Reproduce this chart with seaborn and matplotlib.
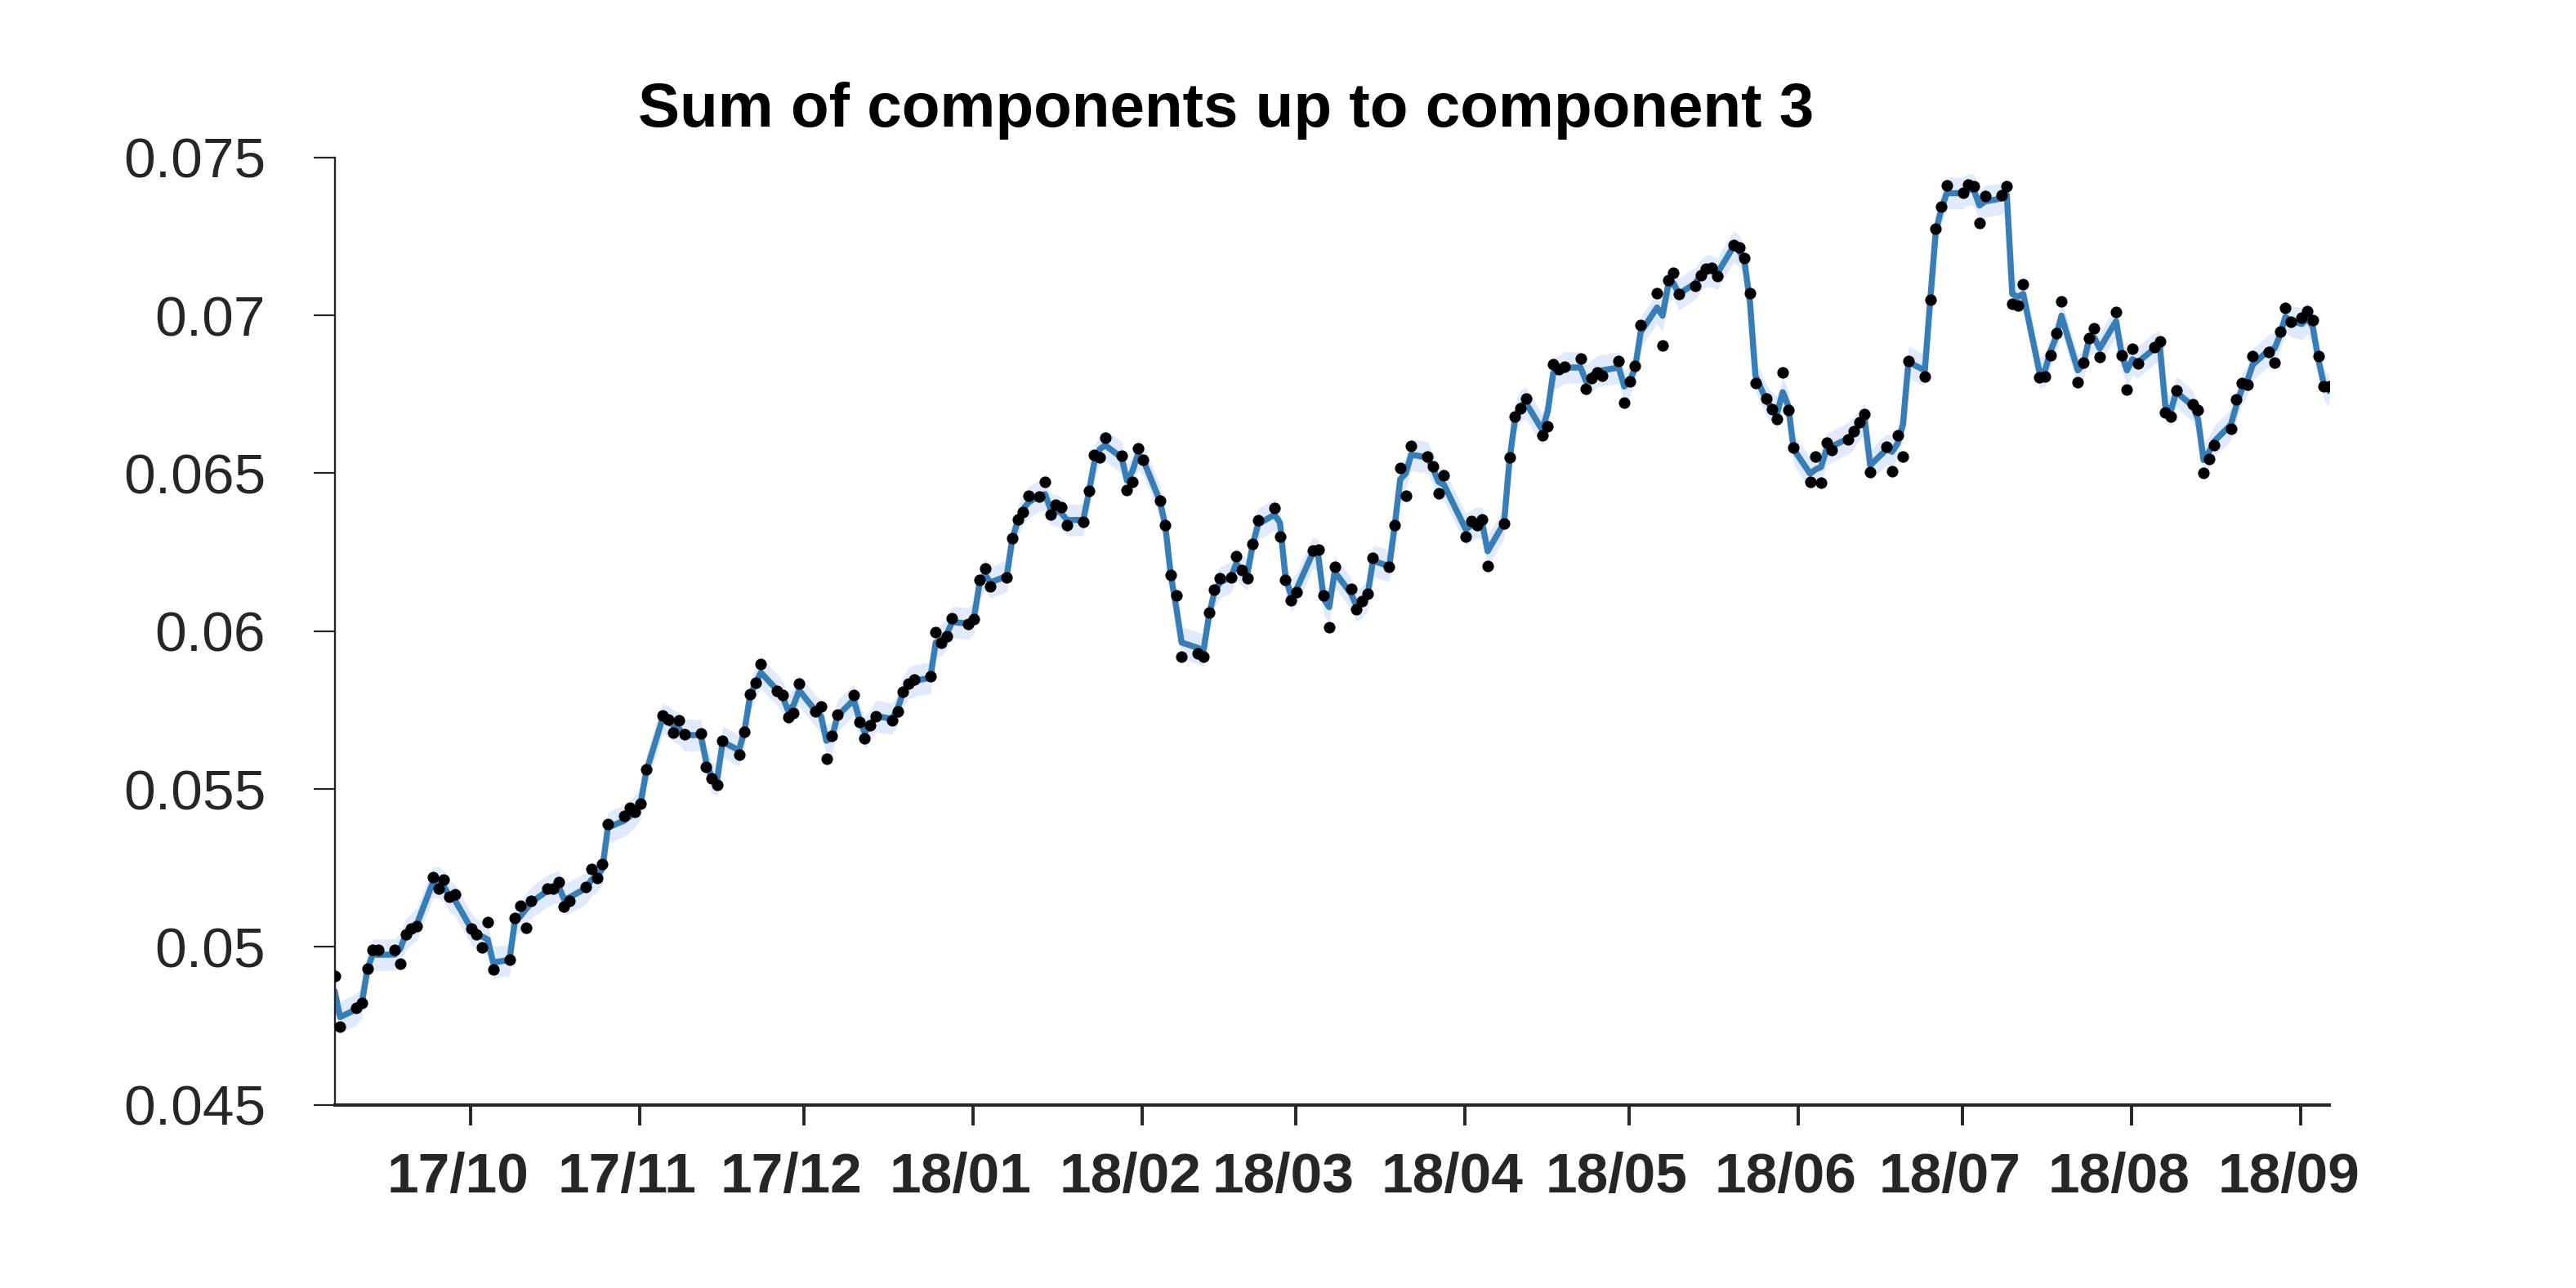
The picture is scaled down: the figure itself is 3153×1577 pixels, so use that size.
import numpy as np
import pandas as pd
import matplotlib
matplotlib.use("Agg")
import matplotlib.pyplot as plt
import matplotlib.transforms as mtransforms
import seaborn as sns

# ---------------- data ----------------
start_time = "2017-09-06 04:00"   # time stamp of the first observation
day_offsets = [0, 1, 4, 5, 6, 7, 8, 11, 12, 13, 14, 15, 18, 19, 20, 21, 22, 25, 26, 27, 28, 29,
               32, 33, 34, 35, 36, 39, 40, 41, 42, 43, 46, 47, 48, 49, 50, 53, 54, 55, 56, 57,
               60, 61, 62, 63, 64, 67, 68, 69, 70, 71, 74, 75, 76, 77, 78, 81, 82, 83, 84, 85,
               88, 89, 90, 91, 92, 95, 96, 97, 98, 99, 102, 103, 104, 105, 106, 109, 110, 111, 112, 113,
               116, 117, 118, 119, 120, 123, 124, 125, 126, 127, 129, 130, 131, 132, 133, 134,
               137, 138, 139, 140, 141, 144, 145, 146, 147, 148, 151, 152, 153, 154, 155,
               158, 159, 160, 161, 162, 164, 165, 166, 167, 168, 169, 172, 173, 174, 175, 176,
               179, 180, 181, 182, 183, 186, 187, 188, 189, 190, 193, 194, 195, 196, 197,
               200, 201, 202, 203, 207, 208, 209, 210, 211, 214, 215, 216, 217, 218,
               221, 222, 223, 224, 225, 228, 229, 230, 231, 232, 235, 236, 237, 238, 239,
               242, 243, 244, 245, 246, 249, 250, 251, 252, 253, 256, 257, 258, 259, 260,
               262, 263, 264, 265, 266, 267, 270, 271, 272, 273, 274, 277, 278, 279, 280, 281,
               284, 285, 286, 287, 288, 291, 292, 293, 294, 295, 298, 299, 300, 301, 302,
               305, 306, 307, 308, 309, 312, 313, 314, 315, 316, 319, 320, 321, 322, 323,
               326, 327, 328, 329, 330, 333, 334, 335, 336, 337, 340, 341, 342, 343, 344,
               347, 348, 349, 350, 351, 354, 355, 356, 357, 358, 360, 361, 362, 363, 364, 365]

observed = [0.04909, 0.04748, 0.04807, 0.04823, 0.04931, 0.04990, 0.04990, 0.04991, 0.04948, 0.05041,
            0.05057, 0.05066, 0.05221, 0.05186, 0.05212, 0.05158, 0.05166, 0.05058, 0.05040, 0.04998,
            0.05079, 0.04929, 0.04959, 0.05091, 0.05130, 0.05061, 0.05145, 0.05186, 0.05186, 0.05205,
            0.05128, 0.05146, 0.05190, 0.05248, 0.05218, 0.05263, 0.05389, 0.05415, 0.05441, 0.05428,
            0.05453, 0.05563, 0.05734, 0.05721, 0.05679, 0.05717, 0.05673, 0.05675, 0.05569, 0.05533,
            0.05513, 0.05653, 0.05609, 0.05682, 0.05800, 0.05837, 0.05895, 0.05811, 0.05798, 0.05729,
            0.05741, 0.05835, 0.05747, 0.05761, 0.05596, 0.05668, 0.05735, 0.05798, 0.05712, 0.05660,
            0.05703, 0.05730, 0.05717, 0.05746, 0.05809, 0.05835, 0.05846, 0.05858, 0.05996, 0.05964,
            0.05984, 0.06042, 0.06024, 0.06039, 0.06162, 0.06199, 0.06143, 0.06171, 0.06294, 0.06355,
            0.06378, 0.06430, 0.06427, 0.06473, 0.06369, 0.06400, 0.06393, 0.06336, 0.06346, 0.06445,
            0.06559, 0.06550, 0.06613, 0.06555, 0.06447, 0.06473, 0.06579, 0.06543, 0.06413, 0.06337,
            0.06177, 0.06113, 0.05919, 0.05930, 0.05919, 0.06059, 0.06132, 0.06168, 0.06171, 0.06237,
            0.06193, 0.06168, 0.06276, 0.06352, 0.06389, 0.06299, 0.06162, 0.06098, 0.06124, 0.06256,
            0.06257, 0.06113, 0.06012, 0.06203, 0.06134, 0.06069, 0.06095, 0.06118, 0.06231, 0.06204,
            0.06337, 0.06516, 0.06428, 0.06587, 0.06553, 0.06523, 0.06437, 0.06493, 0.06300, 0.06349,
            0.06335, 0.06354, 0.06206, 0.06341, 0.06550, 0.06680, 0.06706, 0.06737, 0.06619, 0.06649,
            0.06844, 0.06831, 0.06837, 0.06863, 0.06768, 0.06801, 0.06820, 0.06809, 0.06855, 0.06723,
            0.06790, 0.06840, 0.06970, 0.07070, 0.06904, 0.07111, 0.07134, 0.07068, 0.07094, 0.07128,
            0.07147, 0.07150, 0.07125, 0.07223, 0.07214, 0.07182, 0.07070, 0.06787, 0.06736, 0.06704,
            0.06671, 0.06819, 0.06701, 0.06581, 0.06473, 0.06552, 0.06471, 0.06598, 0.06574, 0.06608,
            0.06634, 0.06662, 0.06687, 0.06505, 0.06583, 0.06506, 0.06621, 0.06552, 0.06855, 0.06806,
            0.07050, 0.07275, 0.07344, 0.07413, 0.07389, 0.07414, 0.07410, 0.07292, 0.07378, 0.07380,
            0.07410, 0.07037, 0.07031, 0.07100, 0.06803, 0.06806, 0.06874, 0.06944, 0.07044, 0.06788,
            0.06850, 0.06927, 0.06960, 0.06868, 0.07012, 0.06874, 0.06764, 0.06895, 0.06848, 0.06900,
            0.06917, 0.06693, 0.06680, 0.06762, 0.06719, 0.06701, 0.06500, 0.06544, 0.06589, 0.06641,
            0.06733, 0.06785, 0.06781, 0.06871, 0.06885, 0.06850, 0.06949, 0.07023, 0.06979, 0.06992,
            0.07013, 0.06986, 0.06871, 0.06776, 0.06775]

fit_mean = [0.04860, 0.04778, 0.04803, 0.04823, 0.04931, 0.04977, 0.04975, 0.04976, 0.04994, 0.05039,
            0.05057, 0.05070, 0.05205, 0.05205, 0.05192, 0.05160, 0.05149, 0.05058, 0.05038, 0.05033,
            0.05024, 0.04951, 0.04959, 0.05084, 0.05097, 0.05119, 0.05141, 0.05179, 0.05186, 0.05192,
            0.05150, 0.05157, 0.05186, 0.05213, 0.05222, 0.05248, 0.05378, 0.05400, 0.05413, 0.05430,
            0.05456, 0.05554, 0.05723, 0.05714, 0.05701, 0.05692, 0.05671, 0.05671, 0.05585, 0.05537,
            0.05529, 0.05649, 0.05623, 0.05684, 0.05792, 0.05835, 0.05869, 0.05813, 0.05792, 0.05748,
            0.05766, 0.05813, 0.05748, 0.05731, 0.05653, 0.05662, 0.05731, 0.05783, 0.05723, 0.05679,
            0.05701, 0.05731, 0.05723, 0.05753, 0.05805, 0.05835, 0.05843, 0.05852, 0.05964, 0.05973,
            0.05990, 0.06029, 0.06024, 0.06042, 0.06150, 0.06180, 0.06154, 0.06175, 0.06292, 0.06348,
            0.06387, 0.06408, 0.06430, 0.06434, 0.06387, 0.06382, 0.06374, 0.06352, 0.06352, 0.06438,
            0.06533, 0.06576, 0.06589, 0.06550, 0.06477, 0.06507, 0.06559, 0.06542, 0.06413, 0.06335,
            0.06180, 0.06076, 0.05964, 0.05947, 0.05938, 0.06050, 0.06124, 0.06154, 0.06171, 0.06214,
            0.06193, 0.06180, 0.06274, 0.06339, 0.06369, 0.06343, 0.06171, 0.06115, 0.06132, 0.06248,
            0.06240, 0.06102, 0.06076, 0.06188, 0.06119, 0.06080, 0.06093, 0.06111, 0.06223, 0.06206,
            0.06335, 0.06481, 0.06499, 0.06559, 0.06550, 0.06516, 0.06473, 0.06464, 0.06322, 0.06335,
            0.06343, 0.06343, 0.06253, 0.06343, 0.06542, 0.06671, 0.06714, 0.06723, 0.06637, 0.06697,
            0.06818, 0.06822, 0.06835, 0.06835, 0.06792, 0.06809, 0.06822, 0.06826, 0.06835, 0.06775,
            0.06792, 0.06835, 0.06947, 0.07025, 0.06999, 0.07094, 0.07102, 0.07068, 0.07102, 0.07128,
            0.07141, 0.07141, 0.07132, 0.07219, 0.07206, 0.07171, 0.07042, 0.06809, 0.06731, 0.06706,
            0.06693, 0.06757, 0.06714, 0.06576, 0.06499, 0.06512, 0.06520, 0.06576, 0.06585, 0.06611,
            0.06628, 0.06654, 0.06671, 0.06525, 0.06576, 0.06568, 0.06594, 0.06654, 0.06852, 0.06826,
            0.07050, 0.07266, 0.07335, 0.07387, 0.07387, 0.07400, 0.07396, 0.07348, 0.07361, 0.07370,
            0.07383, 0.07068, 0.07059, 0.07068, 0.06818, 0.06826, 0.06887, 0.06930, 0.06999, 0.06826,
            0.06844, 0.06921, 0.06930, 0.06895, 0.06982, 0.06878, 0.06826, 0.06861, 0.06852, 0.06895,
            0.06904, 0.06714, 0.06697, 0.06757, 0.06714, 0.06671, 0.06542, 0.06568, 0.06602, 0.06654,
            0.06714, 0.06766, 0.06792, 0.06844, 0.06891, 0.06895, 0.06938, 0.06995, 0.06982, 0.06973,
            0.06990, 0.06964, 0.06861, 0.06783, 0.06760]

band_halfwidth = 0.0005

tick_months = ["2017-10-01", "2017-11-01", "2017-12-01", "2018-01-01", "2018-02-01", "2018-03-01",
               "2018-04-01", "2018-05-01", "2018-06-01", "2018-07-01", "2018-08-01", "2018-09-01"]
tick_labels = ["17/10", "17/11", "17/12", "18/01", "18/02", "18/03",
               "18/04", "18/05", "18/06", "18/07", "18/08", "18/09"]
y_ticks = [0.045, 0.05, 0.055, 0.06, 0.065, 0.07, 0.075]
y_tick_labels = ["0.045", "0.05", "0.055", "0.06", "0.065", "0.07", "0.075"]
title_text = "Sum of components up to component 3"

# ---------------- build frame ----------------
dates = pd.Timestamp(start_time) + pd.to_timedelta(day_offsets, unit="D")
df = pd.DataFrame({"date": dates, "observed": observed, "fit": fit_mean})
df["lo"] = df["fit"] - band_halfwidth
df["hi"] = df["fit"] + band_halfwidth

# ---------------- style ----------------
sns.set_style("white")
plt.rcParams["font.family"] = ["Liberation Sans", "DejaVu Sans"]

DPI = 200
fig = plt.figure(figsize=(3153 / DPI, 1577 / DPI), dpi=DPI)
ax = fig.add_axes([0.1299, 0.1422, 0.7743, 0.7355])

ax.fill_between(df["date"], df["lo"], df["hi"], color="#e1eafc", linewidth=0, zorder=1)
sns.lineplot(data=df, x="date", y="fit", color="#377eb8", linewidth=2.7, ax=ax, zorder=2)
sns.scatterplot(data=df, x="date", y="observed", color="black", s=26, linewidth=0,
                ax=ax, zorder=3)

ax.set_xlim(df["date"].iloc[0], df["date"].iloc[-1])
ax.set_ylim(y_ticks[0], y_ticks[-1])
ax.set_xlabel("")
ax.set_ylabel("")

ax.set_xticks(pd.to_datetime(tick_months))
ax.set_xticklabels(tick_labels, fontsize=25, fontweight="bold", color="#262626")
ax.set_yticks(y_ticks)
ax.set_yticklabels(y_tick_labels, fontsize=25, color="#262626")

ax.tick_params(axis="x", which="major", bottom=True, direction="out", length=9, width=1.4,
               pad=11.5, color="#262626")
ax.tick_params(axis="y", which="major", left=True, direction="out", length=9.4, width=0.8,
               pad=21, color="#262626")

for side in ["top", "right"]:
    ax.spines[side].set_visible(False)
ax.spines["left"].set_linewidth(0.85)
ax.spines["left"].set_color("#262626")
ax.spines["bottom"].set_linewidth(1.5)
ax.spines["bottom"].set_color("#262626")

offset = mtransforms.ScaledTranslation(-15 / DPI, 0, fig.dpi_scale_trans)
for lab in ax.get_xticklabels():
    lab.set_transform(lab.get_transform() + offset)

fig.text(0.476, 1 - 155 / 1577, title_text, ha="center", va="baseline",
         fontsize=27.5, fontweight="bold", color="black")

fig.savefig("out.png", dpi=DPI, facecolor="white")
